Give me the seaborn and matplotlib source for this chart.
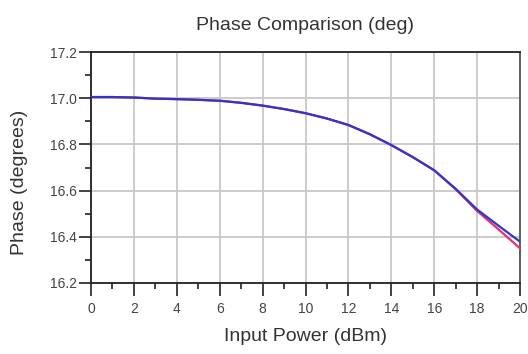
import numpy as np
import pandas as pd
import matplotlib
matplotlib.use("Agg")
import matplotlib.pyplot as plt
import seaborn as sns
from matplotlib.ticker import MultipleLocator, FormatStrFormatter

input_power = [0, 1, 2, 3, 4, 5, 6, 7, 8, 9, 10, 11, 12, 13, 14, 15, 16, 17, 18, 19, 20]
phase_blue = [17.005, 17.005, 17.003, 16.998, 16.996, 16.993, 16.989, 16.980, 16.968, 16.953,
              16.935, 16.912, 16.884, 16.844, 16.797, 16.745, 16.688, 16.608, 16.518, 16.448, 16.379]
phase_red = [17.005, 17.005, 17.003, 16.998, 16.996, 16.993, 16.989, 16.980, 16.968, 16.953,
             16.935, 16.912, 16.884, 16.844, 16.797, 16.745, 16.688, 16.606, 16.512, 16.432, 16.350]
series_names = ["Red", "Blue"]

df = pd.concat([
    pd.DataFrame({"Input Power (dBm)": input_power, "Phase": phase_red, "series": series_names[0]}),
    pd.DataFrame({"Input Power (dBm)": input_power, "Phase": phase_blue, "series": series_names[1]}),
])

sns.set_style("white")
plt.rcParams["font.family"] = ["Liberation Sans", "DejaVu Sans"]

fig = plt.figure(figsize=(5.28, 3.54), dpi=100)
ax = fig.add_axes([91/528, 1 - 283/354, (520 - 91)/528, (283 - 52)/354])

sns.lineplot(data=df, x="Input Power (dBm)", y="Phase", hue="series",
             palette={"Red": "#e8306a", "Blue": "#3434cc"}, linewidth=1.6,
             legend=False, ax=ax, zorder=3)

ax.set_xlim(0, 20)
ax.set_ylim(16.2, 17.2)
ax.xaxis.set_major_locator(MultipleLocator(2))
ax.xaxis.set_minor_locator(MultipleLocator(1))
ax.yaxis.set_major_locator(MultipleLocator(0.2))
ax.yaxis.set_minor_locator(MultipleLocator(0.1))
ax.yaxis.set_major_formatter(FormatStrFormatter("%.1f"))

ax.grid(True, which="major", color="#c8c8c8", linewidth=1.3)
ax.tick_params(axis="both", which="major", direction="out", length=9, width=1.2,
               color="#222222", labelsize=10, labelcolor="#444444")
ax.tick_params(axis="x", which="major", pad=5)
ax.tick_params(axis="y", which="major", pad=1)
ax.tick_params(axis="both", which="minor", direction="out", length=4.5, width=1.2,
               color="#222222")
ax.tick_params(axis="x", which="both", bottom=True)
ax.tick_params(axis="y", which="both", left=True)

for side in ["left", "bottom", "top"]:
    ax.spines[side].set_color("#222222")
    ax.spines[side].set_linewidth(1.3)
ax.spines["right"].set_color("#555555")
ax.spines["right"].set_linewidth(1.3)

ax.set_title("Phase Comparison (deg)", fontsize=14, color="#333333", pad=16)
ax.set_xlabel("Input Power (dBm)", fontsize=14, color="#333333", labelpad=8)
ax.set_ylabel("Phase (degrees)", fontsize=14, color="#333333")
ax.yaxis.set_label_coords(-0.147, 0.435)

fig.savefig("out.png", dpi=100)
